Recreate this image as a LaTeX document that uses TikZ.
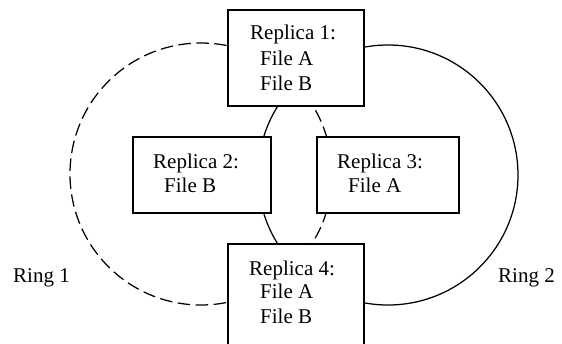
\documentclass[tikz,border=0pt]{standalone}
\usepackage{fontspec}
\setmainfont{Liberation Serif}
\begin{document}
\begin{tikzpicture}[x=1pt,y=-1pt,
  box/.style={draw,line width=1.4pt,fill=white,rectangle,inner sep=0pt,outer sep=0pt,anchor=north west},
  lbl/.style={anchor=base west,inner sep=0pt,font=\fontsize{21}{25}\selectfont},
  ring/.style={line width=1.25pt},
  dashring/.style={ring,dash pattern=on 12.5pt off 5.5pt}]
\useasboundingbox (0,0) rectangle (562,343);
\clip (0,0) rectangle (562,343);
\fill[white] (0,0) rectangle (562,343);
\coordinate (c1) at (201,174);
\coordinate (c2) at (388,175);
\draw[dashring] (c1) circle[radius=131pt];
\draw[ring] (c2) circle[radius=130pt];
\node[box,minimum width=136pt,minimum height=96pt] (r1) at (228,10) {};
\node[box,minimum width=138pt,minimum height=76pt] (r2) at (133,137) {};
\node[box,minimum width=142pt,minimum height=76pt] (r3) at (317,137) {};
\node[box,minimum width=136pt,minimum height=125pt] (r4) at (228,244) {};
\node[lbl] (t1a) at (250,39.5) {Replica 1:};
\node[lbl] (t1b) at (260,65) {File A};
\node[lbl] (t1c) at (260,90) {File B};
\node[lbl] (t2a) at (153,168) {Replica 2:};
\node[lbl] (t2b) at (164,192) {File B};
\node[lbl] (t3a) at (337,168) {Replica 3:};
\node[lbl] (t3b) at (348,192) {File A};
\node[lbl] (t4a) at (249,275) {Replica 4:};
\node[lbl] (t4b) at (260,298.5) {File A};
\node[lbl] (t4c) at (260,323) {File B};
\node[lbl] (ring1) at (13,282) {Ring 1};
\node[lbl] (ring2) at (498,282) {Ring 2};
\end{tikzpicture}
\end{document}
